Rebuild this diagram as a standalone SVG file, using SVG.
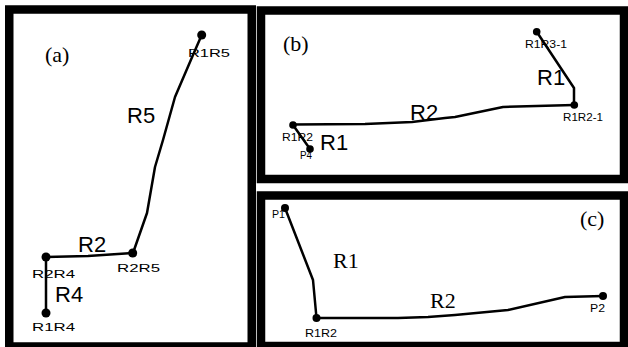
<svg xmlns="http://www.w3.org/2000/svg" width="628" height="347" viewBox="0 0 628 347">
<style>
.frame{fill:#fff;stroke:#000;stroke-width:8.5}
.edge{fill:none;stroke:#000;stroke-width:2.5;stroke-linejoin:round;stroke-linecap:round}
.dot{fill:#000}
.sm{font-family:"Liberation Sans",Arial,sans-serif;font-size:11.5px;fill:#000}
.big{font-family:"Liberation Sans",Arial,sans-serif;font-size:22px;fill:#000}
.ser{font-family:"Liberation Serif","Times New Roman",serif;font-size:22px;fill:#000}
</style>
<rect width="628" height="347" fill="#fff"/>
<g id="panel-a">
<rect class="frame" x="9.25" y="9.5" width="242.5" height="337"/>
<text class="ser" x="45" y="62">(a)</text>
</g>
<g id="panel-b">
<rect class="frame" x="261" y="10.5" width="363" height="168.5"/>
<text class="ser" x="283" y="51" font-size="24">(b)</text>
</g>
<g id="panel-c">
<rect class="frame" x="261" y="195.5" width="363" height="150.5"/>
<text class="ser" x="580" y="226" font-size="21">(c)</text>
</g>
<g id="connectors">
<polyline class="edge" points="201.7,35 193,55 175,97 163,140 155,167 147,213 133,253"/>
<polyline class="edge" points="46,257 88,256 132.7,253"/>
<polyline class="edge" points="46,257 46,313"/>
<polyline class="edge" stroke-width="2" points="536.7,31.7 574,88 574,105"/>
<polyline class="edge" stroke-width="2" points="574,105 503,107 455,117 445,118 412,122 365,124 293,124.5"/>
<polyline class="edge" stroke-width="2" points="293,125 310,149"/>
<polyline class="edge" points="285,208 313,280 316.5,318"/>
<polyline class="edge" points="316.5,318 398,318 428,317 455,315 508,310 565,297 603,296"/>
<text class="big" x="127" y="123">R5</text>
<text class="big" x="78" y="252">R2</text>
<text class="big" x="55" y="302">R4</text>
<text class="big" x="537" y="85" font-size="24">R1</text>
<text class="big" x="410" y="120" font-size="21">R2</text>
<text class="big" x="320" y="150" font-size="24">R1</text>
<text class="ser" x="333" y="268" font-size="23">R1</text>
<text class="ser" x="430" y="308" font-size="23">R2</text>
</g>
<g id="R1R5"><circle class="dot" cx="201.7" cy="35" r="4.5"/><text class="sm" x="188" y="57" textLength="42" lengthAdjust="spacingAndGlyphs">R1R5</text></g>
<g id="R2R5"><circle class="dot" cx="132.7" cy="253" r="4.5"/><text class="sm" x="117" y="272" textLength="43" lengthAdjust="spacingAndGlyphs">R2R5</text></g>
<g id="R2R4"><circle class="dot" cx="46" cy="257" r="4.5"/><text class="sm" x="32" y="278" textLength="43" lengthAdjust="spacingAndGlyphs">R2R4</text></g>
<g id="R1R4"><circle class="dot" cx="46" cy="313" r="4.5"/><text class="sm" x="32" y="331" textLength="43" lengthAdjust="spacingAndGlyphs">R1R4</text></g>
<g id="R1R3-1"><circle class="dot" cx="536.7" cy="31.7" r="3.8"/><text class="sm" x="525" y="48" font-size="10" textLength="42" lengthAdjust="spacingAndGlyphs">R1R3-1</text></g>
<g id="R1R2-1"><circle class="dot" cx="574.3" cy="105" r="3.8"/><text class="sm" x="563" y="121" font-size="10" textLength="40" lengthAdjust="spacingAndGlyphs">R1R2-1</text></g>
<g id="R1R2-b"><circle class="dot" cx="293" cy="125" r="3.8"/><text class="sm" x="282" y="141" font-size="10" textLength="31" lengthAdjust="spacingAndGlyphs">R1R2</text></g>
<g id="P4"><circle class="dot" cx="310" cy="149" r="3.8"/><text class="sm" x="300" y="159" font-size="10" textLength="12" lengthAdjust="spacingAndGlyphs">P4</text></g>
<g id="P1"><circle class="dot" cx="285" cy="208" r="4"/><text class="sm" x="272" y="218" font-size="10" textLength="13" lengthAdjust="spacingAndGlyphs">P1</text></g>
<g id="R1R2-c"><circle class="dot" cx="316.5" cy="318" r="4"/><text class="sm" x="305" y="337" font-size="10.5" textLength="32" lengthAdjust="spacingAndGlyphs">R1R2</text></g>
<g id="P2"><circle class="dot" cx="603" cy="296" r="4"/><text class="sm" x="590" y="312" font-size="10.5" textLength="15" lengthAdjust="spacingAndGlyphs">P2</text></g>
</svg>
